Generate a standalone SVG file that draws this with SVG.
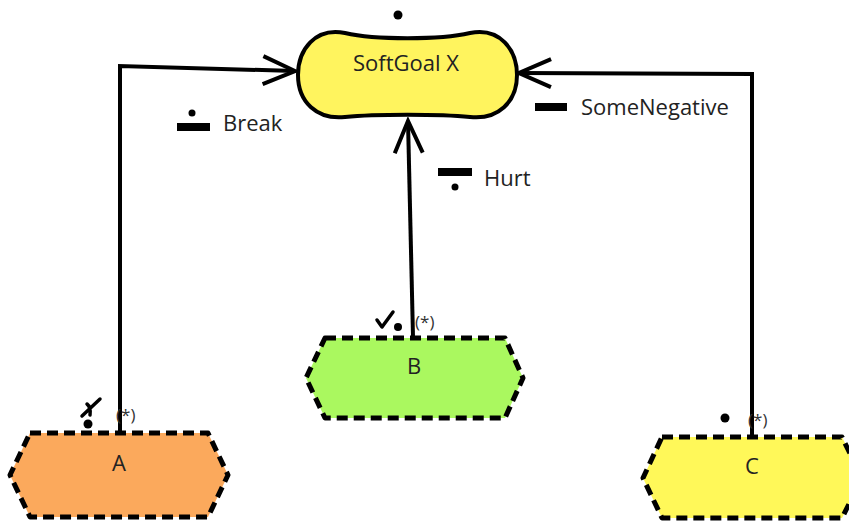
<svg xmlns="http://www.w3.org/2000/svg" width="849" height="523" viewBox="0 0 849 523">
<defs>
<style>
.lbl{font-family:"Open Sans","Noto Sans","Liberation Sans",sans-serif;font-size:22px;fill:#222;}
.star{font-family:"Open Sans","Noto Sans","Liberation Sans",sans-serif;font-size:17px;fill:#333;}
.hex{stroke:#000;stroke-width:5;stroke-dasharray:11 6;stroke-linejoin:round;}
.conn{fill:none;stroke:#000;stroke-width:4;stroke-linejoin:miter;}
.sym{fill:#000;}
.mark{fill:none;stroke:#000;stroke-width:3.5;stroke-linecap:round;stroke-linejoin:round;}
</style>
<marker id="arr" markerUnits="userSpaceOnUse" markerWidth="40" markerHeight="40" refX="0" refY="0" viewBox="-36 -18 40 36" orient="auto">
<path d="M-32,-14 L0,0 L-32,14" fill="none" stroke="#000" stroke-width="4"/>
</marker>
</defs>
<rect width="849" height="523" fill="#fff"/>

<g id="connectors">
<path class="conn" d="M120,432 L120,66 L295,71" marker-end="url(#arr)"/>
<path class="conn" d="M413,337 L408,121" marker-end="url(#arr)"/>
<path class="conn" d="M752,437 L752,74 L519,73" marker-end="url(#arr)"/>
<g id="lbl-break">
<circle class="sym" cx="192" cy="113" r="3.5"/>
<rect class="sym" x="177" y="123" width="33" height="8"/>
<text class="lbl" x="223" y="131">Break</text>
</g>
<g id="lbl-hurt">
<rect class="sym" x="438" y="168" width="34" height="8"/>
<circle class="sym" cx="455" cy="187" r="3.5"/>
<text class="lbl" x="484" y="186">Hurt</text>
</g>
<g id="lbl-someneg">
<rect class="sym" x="535" y="103" width="32" height="8"/>
<text class="lbl" x="581" y="115">SomeNegative</text>
</g>
</g>

<g id="softgoal-x">
<path d="M345,33 C375,40 440,40 470,33 C500,27 517,50 517,75 C517,102 498,120 470,117 C440,114 375,114 345,117 C317,120 298,102 298,75 C298,50 315,27 345,33 Z" fill="#FFF45E" stroke="#000" stroke-width="4"/>
<text class="lbl" x="406" y="71" text-anchor="middle">SoftGoal X</text>
<circle class="sym" cx="398" cy="15" r="4.5"/>
</g>

<g id="node-a">
<polygon class="hex" points="30,433 208,433 228,475 208,517 30,517 10,475" fill="#FBA95C"/>
<text class="lbl" x="119" y="471" text-anchor="middle">A</text>
<circle class="sym" cx="88" cy="424" r="4.5"/>
<path class="mark" d="M82,416 L100,399 M87,404 Q91,407 90,415"/>
<text class="star" x="116" y="421">(*)</text>
</g>

<g id="node-b">
<polygon class="hex" points="325,338 505,338 523,378 505,418 325,418 306,378" fill="#AAF85F"/>
<text class="lbl" x="414" y="374" text-anchor="middle">B</text>
<path class="mark" d="M377,320 L382,327 L393,312"/>
<circle class="sym" cx="398" cy="327" r="4"/>
<text class="star" x="415" y="328">(*)</text>
</g>

<g id="node-c">
<polygon class="hex" points="662,437 842,437 862,478 842,518 662,518 643,478" fill="#FFF859"/>
<text class="lbl" x="752" y="474" text-anchor="middle">C</text>
<circle class="sym" cx="725" cy="418" r="4.5"/>
<text class="star" x="748" y="426">(*)</text>
</g>
</svg>
